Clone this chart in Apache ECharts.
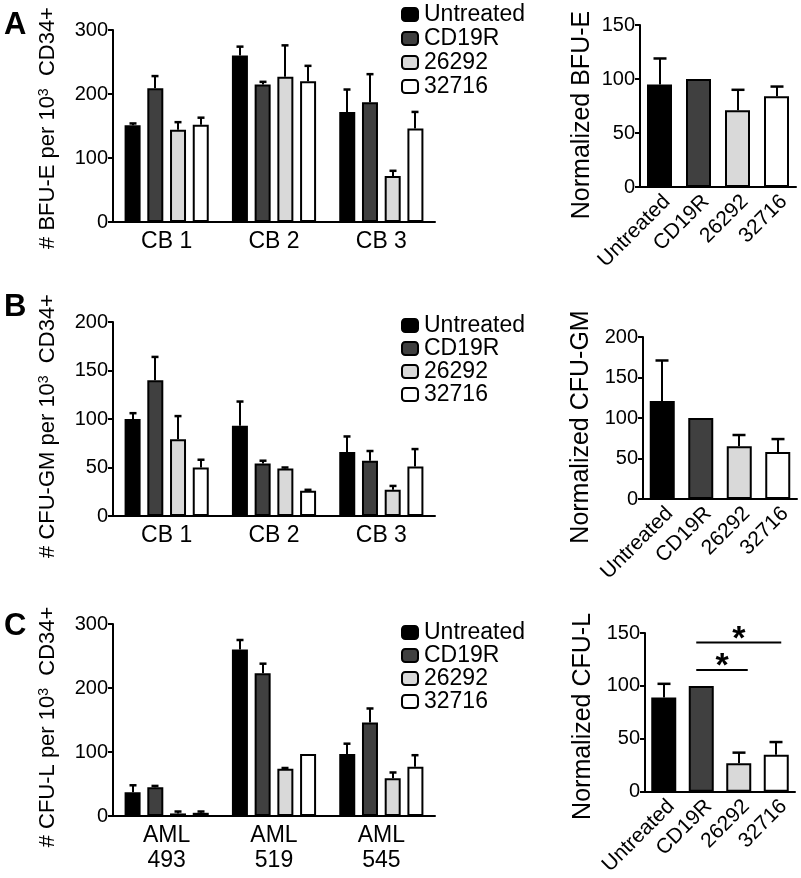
<!DOCTYPE html>
<html>
<head>
<meta charset="utf-8">
<script src="https://cdn.jsdelivr.net/npm/echarts@6/dist/echarts.min.js"></script>
<style>
html,body{margin:0;padding:0;background:#fff;}
#chart{width:801px;height:878px;}
</style>
</head>
<body>
<div id="chart"></div>
<script>
// ---------- DATA ----------
const treatments = ['Untreated', 'CD19R', '26292', '32716'];
const cbCats = ['CB 1', 'CB 2', 'CB 3'];
const amlCats = ['AML\n493', 'AML\n519', 'AML\n545'];

// Panel A (BFU-E per 10^3 CD34+)
const aUntreated = [151, 260, 172], aUntreatedErr = [3, 14, 35];
const aCD19R = [209, 215, 187], aCD19RErr = [19, 4, 44];
const a26292 = [144, 227, 72], a26292Err = [12, 49, 8];
const a32716 = [152, 220, 146], a32716Err = [11, 24, 26];
const aNorm = [95, 100, 71, 84], aNormErr = [24, 0, 19, 9];

// Panel B (CFU-GM per 10^3 CD34+)
const bUntreated = [100, 93, 66], bUntreatedErr = [6, 25, 16];
const bCD19R = [140, 54, 57], bCD19RErr = [24, 3, 10];
const b26292 = [79, 49, 27], b26292Err = [24, 1, 4];
const b32716 = [50, 26, 51], b32716Err = [8, 1, 18];
const bNorm = [121, 100, 65, 58], bNormErr = [50, 0, 14, 16];

// Panel C (CFU-L per 10^3 CD34+)
const cUntreated = [37, 260, 97], cUntreatedErr = [11, 15, 16];
const cCD19R = [45, 223, 146], cCD19RErr = [2, 15, 22];
const c26292 = [4, 74, 59], c26292Err = [3, 1, 9];
const c32716 = [5, 97, 77], c32716Err = [2, 0, 18];
const cNorm = [89, 100, 27, 35], cNormErr = [13, 0, 10, 12];

// significance brackets in panel C (normalized)
const sigFrom = ['CD19R', 'CD19R'];
const sigTo = ['32716', '26292'];
const sigLevel = [141, 115];
const sigLabel = ['*', '*'];

// axis ticks
const aTicks = {max: 300, interval: 100};
const aNormTicks = {max: 150, interval: 50};
const bTicks = {max: 200, interval: 50};
const bNormTicks = {max: 200, interval: 50};
const cTicks = {max: 300, interval: 100};
const cNormTicks = {max: 150, interval: 50};

// ---------- STYLE ----------
const FONT = '"Liberation Sans", Arial, Helvetica, sans-serif';
const colors = ['#000000', '#404040', '#d9d9d9', '#ffffff'];

const chart = echarts.init(document.getElementById('chart'), null, {renderer: 'canvas'});

const grids = [
  {left: 113, top: 30, width: 322, height: 192},
  {left: 640, top: 25, width: 156, height: 162},
  {left: 113, top: 322, width: 322, height: 194},
  {left: 643, top: 337, width: 154, height: 162},
  {left: 113, top: 624, width: 322, height: 192},
  {left: 645, top: 633, width: 150, height: 161}
];

const axisLine = {show: true, lineStyle: {color: '#000', width: 2}};

function xCat(gi, cats, rotated) {
  return {
    type: 'category', gridIndex: gi, data: cats,
    axisLine: axisLine, axisTick: {show: false},
    axisLabel: rotated ? {
      rotate: 45, fontSize: 21, fontFamily: FONT, color: '#000', margin: 4, interval: 0,
      verticalAlign: 'top'
    } : {
      fontSize: 23, fontFamily: FONT, color: '#000', margin: 7, lineHeight: 25, interval: 0
    }
  };
}
function yVal(gi, ticks, name, nameSize, gap, shift) {
  return {
    type: 'value', gridIndex: gi, min: 0, max: ticks.max, interval: ticks.interval,
    axisLine: axisLine,
    axisTick: {show: true, length: 5, lineStyle: {color: '#000', width: 2}},
    splitLine: {show: false},
    axisLabel: {fontSize: 20, fontFamily: FONT, color: '#000', margin: 5},
    name: name, nameLocation: 'middle', nameRotate: 90, nameGap: gap,
    nameTextStyle: {
      fontSize: nameSize, fontFamily: FONT, color: '#000',
      padding: [0, shift, 0, 0],
      rich: {sup: {fontSize: 14, fontFamily: FONT, color: '#000', verticalAlign: 'top', lineHeight: 14}}
    }
  };
}

const BW = 16, GAP = 0.42, N = 4;
function errRenderer(bw, gapRatio, n, cap) {
  return function (params, api) {
    const cat = api.value(0), top = api.value(1), err = api.value(2), si = api.value(3);
    if (!err) return null;
    const gap = bw * gapRatio;
    const total = n * bw + (n - 1) * gap;
    const off = n > 1 ? (-total / 2 + si * (bw + gap) + bw / 2) : 0;
    const p0 = api.coord([cat, top]);
    const p1 = api.coord([cat, top + err]);
    const x = Math.round(p0[0] + off);
    return {
      type: 'group',
      children: [
        {type: 'line', shape: {x1: x, y1: p0[1], x2: x, y2: p1[1]}, style: {stroke: '#000', lineWidth: 2}},
        {type: 'line', shape: {x1: x - cap / 2, y1: p1[1], x2: x + cap / 2, y2: p1[1]}, style: {stroke: '#000', lineWidth: 2.5}}
      ]
    };
  };
}

const series = [];
function groupedPanel(gi, sets) {
  const errData = [];
  sets.forEach(function (s, si) {
    series.push({
      type: 'bar', name: treatments[si], xAxisIndex: gi, yAxisIndex: gi,
      data: s[0], barWidth: BW, barGap: (GAP * 100) + '%',
      itemStyle: {color: colors[si], borderColor: '#000', borderWidth: 2},
      animation: false
    });
    s[0].forEach(function (v, ci) { errData.push([ci, v, s[1][ci], si]); });
  });
  series.push({
    type: 'custom', name: 'err' + gi, xAxisIndex: gi, yAxisIndex: gi,
    data: errData, renderItem: errRenderer(BW, GAP, N, 7),
    encode: {x: 0, y: 1}, z: 5, animation: false, silent: true
  });
}
function normPanel(gi, vals, errs) {
  series.push({
    type: 'bar', name: 'norm' + gi, xAxisIndex: gi, yAxisIndex: gi,
    data: vals.map(function (v, i) { return {value: v, itemStyle: {color: colors[i]}}; }),
    barWidth: 25,
    itemStyle: {borderColor: '#000', borderWidth: 2},
    animation: false
  });
  series.push({
    type: 'custom', name: 'normerr' + gi, xAxisIndex: gi, yAxisIndex: gi,
    data: vals.map(function (v, i) { return [i, v, errs[i], 0]; }),
    renderItem: errRenderer(25, 0, 1, 13),
    encode: {x: 0, y: 1}, z: 5, animation: false, silent: true
  });
}

groupedPanel(0, [[aUntreated, aUntreatedErr], [aCD19R, aCD19RErr], [a26292, a26292Err], [a32716, a32716Err]]);
normPanel(1, aNorm, aNormErr);
groupedPanel(2, [[bUntreated, bUntreatedErr], [bCD19R, bCD19RErr], [b26292, b26292Err], [b32716, b32716Err]]);
normPanel(3, bNorm, bNormErr);
groupedPanel(4, [[cUntreated, cUntreatedErr], [cCD19R, cCD19RErr], [c26292, c26292Err], [c32716, c32716Err]]);
normPanel(5, cNorm, cNormErr);

// significance brackets
series.push({
  type: 'custom', name: 'sig', xAxisIndex: 5, yAxisIndex: 5,
  data: sigFrom.map(function (f, i) {
    return [treatments.indexOf(f), sigLevel[i], treatments.indexOf(sigTo[i]), i];
  }),
  encode: {x: 0, y: 1},
  renderItem: function (params, api) {
    const a = api.coord([api.value(0), api.value(1)]);
    const b = api.coord([api.value(2), api.value(1)]);
    const x1 = a[0] - 5, x2 = b[0] + 5 + (api.value(2) === 2 ? 4 : 0);
    return {
      type: 'group',
      children: [
        {type: 'line', shape: {x1: x1, y1: a[1], x2: x2, y2: a[1]}, style: {stroke: '#000', lineWidth: 2}},
        {type: 'text', x: (x1 + x2) / 2, y: a[1] - 3,
         style: {text: sigLabel[api.value(3)], font: 'bold 34px ' + FONT, fill: '#000', align: 'center', verticalAlign: 'middle'}}
      ]
    };
  },
  z: 5, animation: false, silent: true
});

function legendAt(top, gap) {
  return {
    data: treatments, orient: 'vertical', left: 396, top: top,
    itemWidth: 16, itemHeight: 13, itemGap: gap, icon: 'roundRect',
    textStyle: {fontSize: 23, fontFamily: FONT, color: '#000', padding: [0, 0, 0, 1]},
    selectedMode: false
  };
}

const option = {
  backgroundColor: '#fff',
  animation: false,
  title: [
    {text: 'A', left: -1, top: 5, textStyle: {fontSize: 31, fontWeight: 'bold', fontFamily: FONT, color: '#000'}},
    {text: 'B', left: -1, top: 287, textStyle: {fontSize: 31, fontWeight: 'bold', fontFamily: FONT, color: '#000'}},
    {text: 'C', left: -1, top: 606, textStyle: {fontSize: 31, fontWeight: 'bold', fontFamily: FONT, color: '#000'}}
  ],
  legend: [legendAt(-2, 1), legendAt(309, 0), legendAt(616, 0)],
  grid: grids,
  xAxis: [
    xCat(0, cbCats, false), xCat(1, treatments, true),
    xCat(2, cbCats, false), xCat(3, treatments, true),
    xCat(4, amlCats, false), xCat(5, treatments, true)
  ],
  yAxis: [
    yVal(0, aTicks, '# BFU-E per 10{sup|3}  CD34+', 22, 54, 4),
    yVal(1, aNormTicks, 'Normalized BFU-E', 25, 45, 18),
    yVal(2, bTicks, '# CFU-GM per 10{sup|3}  CD34+', 22, 54, 14),
    yVal(3, bNormTicks, 'Normalized CFU-GM', 25, 49, 18),
    yVal(4, cTicks, '# CFU-L per 10{sup|3}  CD34+', 22, 54, 14),
    yVal(5, cNormTicks, 'Normalized CFU-L', 25, 49, 8)
  ],
  series: series
};
chart.setOption(option);
</script>
</body>
</html>
